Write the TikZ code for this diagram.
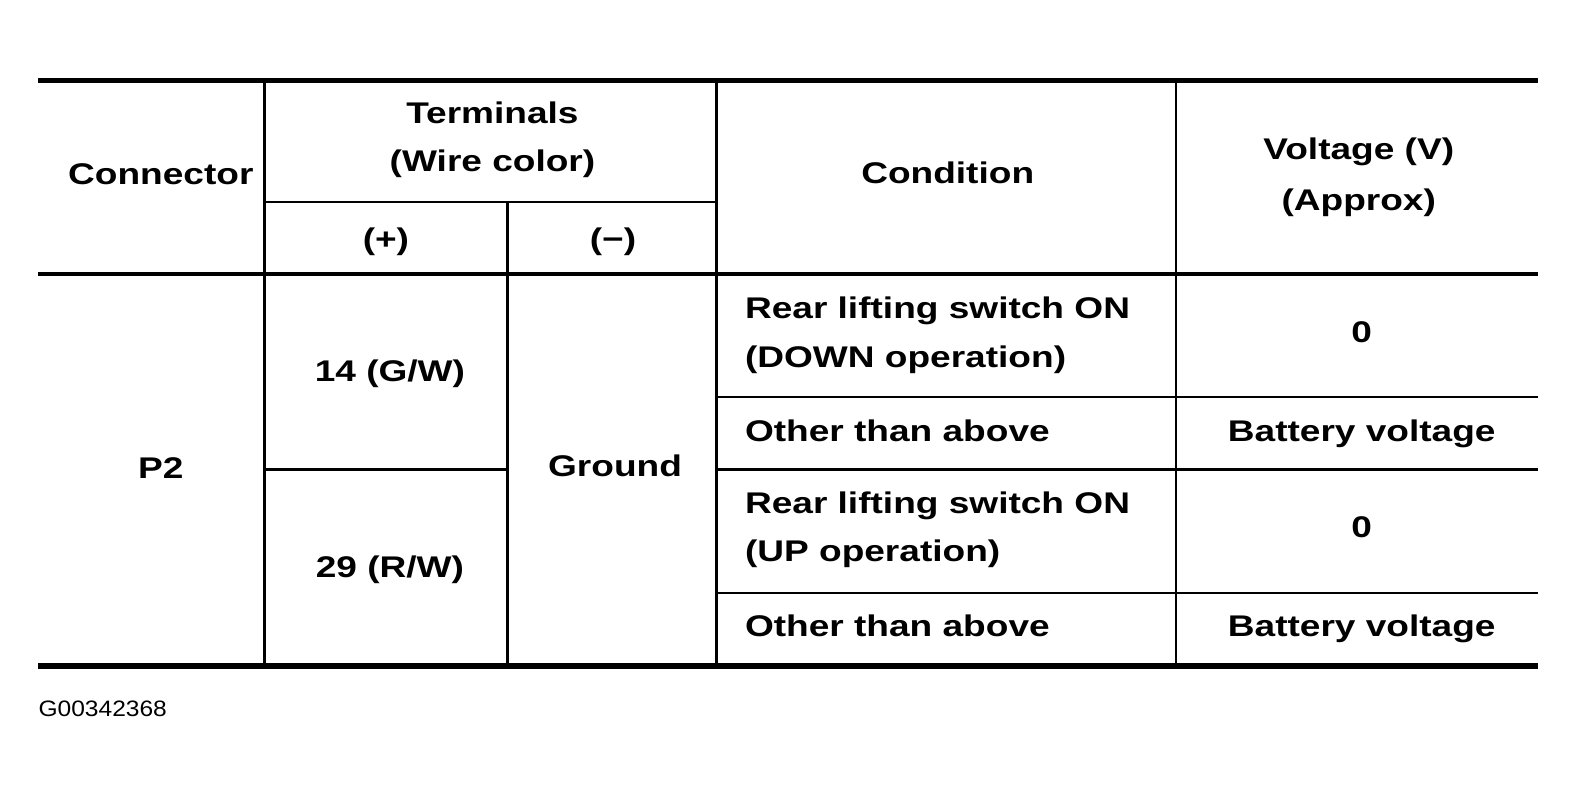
\documentclass[tikz,border=0pt]{standalone}
\usepackage{fontspec}
\newfontfamily\cellfont[FakeStretch=1.24]{Liberation Sans}
\newfontfamily\idfont[FakeStretch=1.1]{Liberation Sans}

\begin{document}
\begin{tikzpicture}[x=0.0201cm,y=-0.0201cm]
    \tikzstyle{every node}+=[inner sep=0pt]
    \tikzstyle{cell}=[anchor=base,font=\cellfont\bfseries\fontsize{17}{20}\selectfont]
    \tikzstyle{cond}=[cell,anchor=base west]
    \tikzstyle{heavy}=[black,line width=3.2pt]
    \tikzstyle{mid}=[black,line width=2.4pt]
    \tikzstyle{rule}=[black,line width=1.4pt]
    \useasboundingbox (0,0) rectangle (1568.2,788.1);
    % table rules
    \draw [heavy] (38,80) -- (1530,80);
    \draw [mid] (38,273) -- (1530,273);
    \draw [heavy] (38,663) -- (1530,663);
    \draw [rule] (263,80) -- (263,663);
    \draw [rule] (505,201) -- (505,663);
    \draw [rule] (713,80) -- (713,663);
    \draw [rule] (1170,80) -- (1170,663);
    \draw [rule] (263,201) -- (713,201);
    \draw [rule] (713,395) -- (1530,395);
    \draw [rule] (263,467) -- (505,467);
    \draw [rule] (713,467) -- (1530,467);
    \draw [rule] (713,590) -- (1530,590);
    % header
    \node [cell] (conn) at (160,184) {Connector};
    \node [cell] (term) at (490,123) {Terminals};
    \node [cell] (wire) at (490,171) {(Wire color)};
    \node [cell] (plus) at (384,248) {(+)};
    \node [cell] (minus) at (610,248) {(−)};
    \node [cell] (cond) at (943,183) {Condition};
    \node [cell] (volt) at (1352,159) {Voltage (V)};
    \node [cell] (approx) at (1352,209) {(Approx)};
    % body
    \node [cell] (p2) at (160,476) {P2};
    \node [cell] (t14) at (388,380) {14 (G/W)};
    \node [cell] (t29) at (388,575) {29 (R/W)};
    \node [cell] (gnd) at (612,474) {Ground};
    \node [cond] (downa) at (741,317) {Rear lifting switch ON};
    \node [cond] (downb) at (741,366) {(DOWN operation)};
    \node [cond] (othera) at (741,439) {Other than above};
    \node [cond] (upa) at (741,511) {Rear lifting switch ON};
    \node [cond] (upb) at (741,559) {(UP operation)};
    \node [cond] (otherb) at (741,633) {Other than above};
    \node [cell] (vdown) at (1355,341) {0};
    \node [cell] (vbata) at (1355,439) {Battery voltage};
    \node [cell] (vup) at (1355,535) {0};
    \node [cell] (vbatb) at (1355,633) {Battery voltage};
    \node [anchor=base west,font=\idfont\fontsize{12.7}{15}\selectfont] (figid) at (38,713) {G00342368};
\end{tikzpicture}
\end{document}
